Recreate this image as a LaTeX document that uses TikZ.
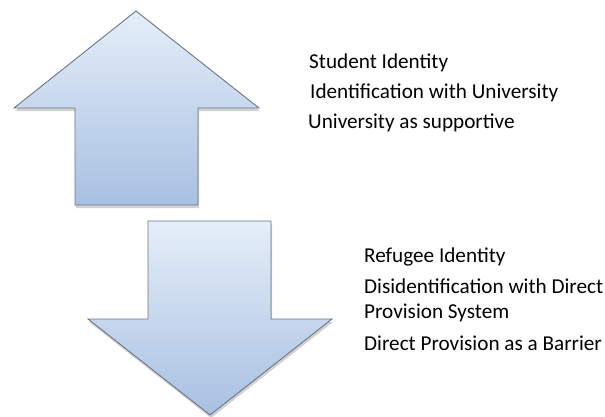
\documentclass[tikz,border=0pt]{standalone}
\usepackage{fontspec}
\setmainfont{Carlito}
\definecolor{arrtop}{HTML}{E5EEF8}
\definecolor{arrbot}{HTML}{A8C0E2}
\definecolor{arredge}{HTML}{6B7585}
\tikzset{
  bigarrow/.style={draw=arredge, line width=0.9pt, line join=miter, top color=arrtop, bottom color=arrbot},
  arrshadow/.style={fill=black, opacity=0.18, draw=none},
  lbl/.style={anchor=base west, inner sep=0pt, font=\fontsize{21.2}{25}\selectfont, text=black}
}
\begin{document}
\begin{tikzpicture}[x=1pt,y=-1pt]
\useasboundingbox (0,0) rectangle (605,416);
% shadows
\fill[arrshadow] (137,14) -- (260,111) -- (199,111) -- (199,208) -- (76,208) -- (76,111) -- (15,111) -- cycle;
\fill[arrshadow] (149,224) -- (272,224) -- (272,322) -- (333,322) -- (211,418) -- (89,322) -- (149,322) -- cycle;
% up arrow
\path[bigarrow] (136,11) coordinate (uptip) -- (259,108) -- (198,108) -- (198,205) -- (75,205) -- (75,108) -- (14,108) -- cycle;
% down arrow
\path[bigarrow] (148,221) -- (271,221) -- (271,319) -- (332,319) -- (210,415) coordinate (downtip) -- (88,319) -- (148,319) -- cycle;
% labels
\node[lbl] (s1) at (309,68) {Student Identity};
\node[lbl] (s2) at (310,98) {Identification with University};
\node[lbl] (s3) at (308,128) {University as supportive};
\node[lbl] (r1) at (364,262) {Refugee Identity};
\node[lbl] (r2) at (364,293) {Disidentification with Direct};
\node[lbl] (r3) at (364,318) {Provision System};
\node[lbl] (r4) at (364,350) {Direct Provision as a Barrier};
\end{tikzpicture}
\end{document}
